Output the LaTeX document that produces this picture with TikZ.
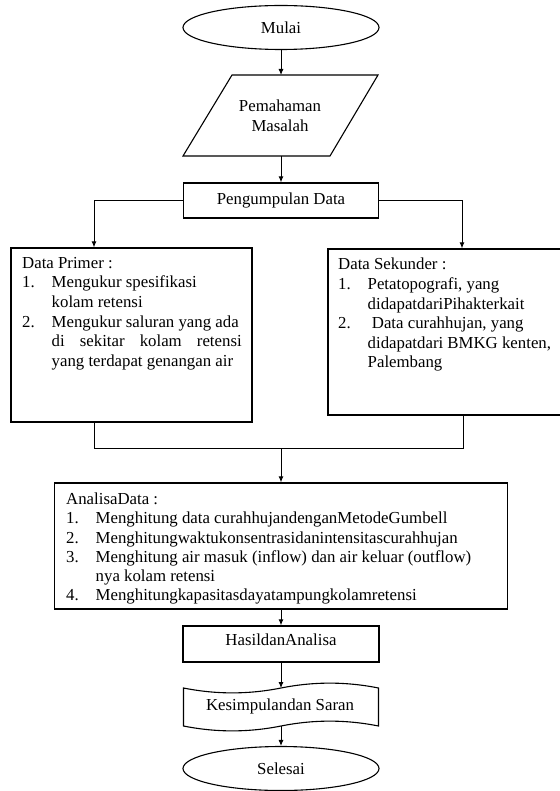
\documentclass[tikz,border=0pt]{standalone}
\usepackage{fontspec}
\setmainfont{Liberation Serif}
\usetikzlibrary{shapes.geometric,arrows.meta}

\newcommand{\itemno}[1]{\makebox[29.5pt][l]{#1}}
\newcommand{\itemgap}{\hspace*{29.5pt}}

\begin{document}
\begin{tikzpicture}[x=1pt, y=-1pt,
  font={\fontsize{16.8}{19.6}\selectfont},
  box/.style={draw=black, line width=1.3pt, rectangle, inner sep=0pt},
  term/.style={draw=black, line width=1.1pt, ellipse, minimum width=196, minimum height=44, inner sep=0pt},
  isi/.style={anchor=north west, inner sep=0pt, align=left},
  flow/.style={draw=black, line width=0.9pt, -{Latex[length=6pt,width=5pt]}},
  link/.style={draw=black, line width=0.9pt}]
\useasboundingbox (0,0) rectangle (559,791);

% start and problem
\node[term] (mulai) at (281,27.5) {Mulai};
\draw[line width=1.1pt] (232,75) -- (378,75) -- (330,156) -- (183,156) -- cycle;
\coordinate (masalahtop) at (281,75);
\coordinate (masalahbot) at (281,156);
\node[align=center] (masalah) at (280,116) {Pemahaman\\Masalah};

% data
\node[box, minimum width=195, minimum height=35] (kumpul) at (281,200.5) {Pengumpulan Data};
\node[box, minimum width=241, minimum height=174] (primer) at (131.5,335) {};
\node[box, minimum width=233, minimum height=166] (sekunder) at (444.5,332) {};
\node[isi] (primerisi) at (22,257) {Data Primer :\\
  \itemno{1.}Mengukur spesifikasi\\
  \itemgap kolam retensi\\
  \itemno{2.}Mengukur saluran yang ada\\
  \itemgap\makebox[190pt][s]{di sekitar kolam retensi}\\
  \itemgap yang terdapat genangan air};
\node[isi] (sekunderisi) at (338,258) {Data Sekunder :\\
  \itemno{1.}Petatopografi, yang\\
  \itemgap didapatdariPihakterkait\\
  \itemno{2.}\ Data curahhujan, yang\\
  \itemgap didapatdari BMKG kenten,\\
  \itemgap Palembang};

% analysis
\node[box, minimum width=453, minimum height=126] (analisa) at (281,546) {};
\node[isi, font={\fontsize{16.8}{19.1}\selectfont}] (analisaisi) at (66,493) {AnalisaData :\\
  \itemno{1.}Menghitung data curahhujandenganMetodeGumbell\\
  \itemno{2.}Menghitungwaktukonsentrasidanintensitascurahhujan\\
  \itemno{3.}Menghitung air masuk (inflow) dan air keluar (outflow)\\
  \itemgap nya kolam retensi\\
  \itemno{4.}Menghitungkapasitasdayatampungkolamretensi};

% result and end
\node[box, minimum width=196, minimum height=36, text depth=8pt] (hasil) at (281,644) {HasildanAnalisa};
\draw[line width=1.1pt] (183.5,688)
  .. controls (216,694.5) and (248.5,694.5) .. (281,688)
  .. controls (313.5,681.5) and (346,681.5) .. (378.5,688) -- (378.5,726)
  .. controls (346,719.5) and (313.5,719.5) .. (281,726)
  .. controls (248.5,732.5) and (216,732.5) .. (183.5,726) -- cycle;
\coordinate (tapetop) at (281,688);
\coordinate (tapebot) at (281,726);
\node (simpulan) at (280,706) {Kesimpulandan Saran};
\node[term] (selesai) at (281,768.5) {Selesai};

% connectors
\draw[flow] (mulai) -- (masalahtop);
\draw[flow] (masalahbot) -- (kumpul);
\draw[flow] (kumpul.west) -| ([xshift=-37.5pt]primer.north);
\draw[flow] (kumpul.east) -| ([xshift=17.5pt]sekunder.north);
\draw[link] ([xshift=-37.5pt]primer.south) -- ++(0,26) coordinate (gabung) -| ([xshift=18.5pt]sekunder.south);
\coordinate (tengah) at (281,448);
\draw[flow] (tengah) -- (analisa);
\draw[flow] (analisa) -- (hasil);
\draw[flow] (hasil) -- (tapetop);
\draw[flow] (tapebot) -- (selesai);
\end{tikzpicture}
\end{document}
